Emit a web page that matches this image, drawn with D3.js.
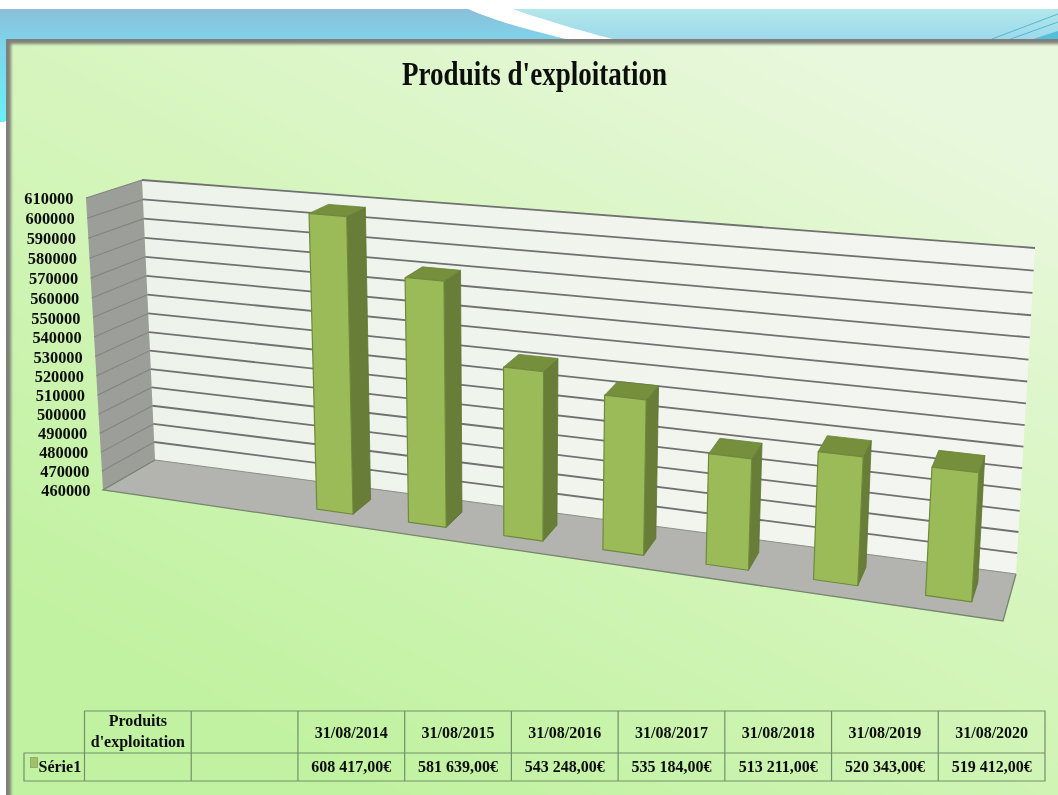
<!DOCTYPE html>
<html><head><meta charset="utf-8">
<script src="https://cdn.jsdelivr.net/npm/d3@7"></script>
<style>
html,body{margin:0;padding:0;background:#fff;overflow:hidden}
svg{display:block}
text{font-family:"Liberation Serif",serif;font-weight:bold;fill:#0c0f0c}
</style></head><body>
<svg id="c" width="1058" height="795"></svg>
<script>
const titleText = "Produits d'exploitation";
const categories = ["Produits d'exploitation", "", "31/08/2014", "31/08/2015", "31/08/2016", "31/08/2017", "31/08/2018", "31/08/2019", "31/08/2020"];
const values = [null, null, 608417, 581639, 543248, 535184, 513211, 520343, 519412];
const valueLabels = ["", "", "608 417,00€", "581 639,00€", "543 248,00€", "535 184,00€", "513 211,00€", "520 343,00€", "519 412,00€"];
const seriesName = "Série1";
const ticks = d3.range(460000, 610001, 10000);

const svg = d3.select("#c");
const W = 1058, H = 795;
const defs = svg.append("defs");

function grad(id, x1, y1, x2, y2, stops, units) {
  const g = defs.append("linearGradient").attr("id", id)
    .attr("x1", x1).attr("y1", y1).attr("x2", x2).attr("y2", y2);
  if (units) g.attr("gradientUnits", units);
  stops.forEach(([o, c]) => g.append("stop").attr("offset", o).attr("stop-color", c));
}
grad("panel", 800, 40, 400, 795, [[0, "#e8f8dc"], [0.42, "#d7f5bf"], [0.64, "#cff4b4"], [1, "#c1f2a1"]], "userSpaceOnUse");
grad("bandL", 0, 0, 0, 1, [[0, "#8bbfd9"], [1, "#7fd2ea"]]);
grad("bandR", 0, 0, 0, 1, [[0, "#b3e7e8"], [1, "#9cd9ec"]]);
grad("sideL", 0, 0, 0, 1, [[0, "#7fd2ea"], [1, "#68f0f8"]]);
grad("wall", 0, 0, 1, 0, [[0, "#edf3ea"], [1, "#f3f6f0"]]);
const blurF = defs.append("filter").attr("id", "soft").attr("x", "-5%").attr("y", "-5%").attr("width", "110%").attr("height", "110%");
blurF.append("feGaussianBlur").attr("stdDeviation", 1.6);
const tiny = defs.append("filter").attr("id", "tiny").attr("x", "-5%").attr("y", "-5%").attr("width", "110%").attr("height", "110%");
tiny.append("feGaussianBlur").attr("stdDeviation", 0.45);
const tinyT = defs.append("filter").attr("id", "tinyT").attr("x", "-5%").attr("y", "-5%").attr("width", "110%").attr("height", "110%");
tinyT.append("feGaussianBlur").attr("stdDeviation", 0.3);

// slide background
const line = d3.line();
svg.append("rect").attr("x", 0).attr("y", 9).attr("width", W).attr("height", 31).attr("fill", "url(#bandL)");
svg.append("path").attr("fill", "url(#bandR)")
  .attr("d", "M513,9 C560,25 590,33 617,40 L1058,40 L1058,9 Z");
svg.append("path").attr("fill", "#fff")
  .attr("d", "M468,9 C500,23 540,33 570,40 L617,40 C590,33 560,25 513,9 Z");
svg.append("path").attr("fill", "none").attr("stroke", "#4fb8d8").attr("stroke-width", 1)
  .attr("d", "M992,39 L1058,14 M1008,40 L1058,22");
svg.append("path").attr("fill", "#55bedb").attr("d", "M1030,40 L1058,31 L1058,40 Z");
svg.append("rect").attr("x", 0).attr("y", 40).attr("width", 6).attr("height", 82).attr("fill", "url(#sideL)");
svg.append("path").attr("fill", "#fff").attr("d", "M0,124 L6,121 L6,795 L0,795 Z");

// panel and its soft grey frame
svg.append("rect").attr("x", 6).attr("y", 39).attr("width", W).attr("height", H).attr("fill", "#7f8079");
const panelClip = defs.append("clipPath").attr("id", "pc");
panelClip.append("rect").attr("x", 6).attr("y", 39).attr("width", W).attr("height", H);
svg.append("g").attr("clip-path", "url(#pc)").append("rect")
  .attr("x", 11).attr("y", 44).attr("width", W + 20).attr("height", H + 20)
  .attr("fill", "url(#panel)").attr("filter", "url(#soft)");

const texts = svg.append("g").attr("filter", "url(#tinyT)");

// title
texts.append("text").attr("x", 534.5).attr("y", 85).attr("text-anchor", "middle")
  .attr("font-size", 34).attr("textLength", 265).attr("lengthAdjust", "spacingAndGlyphs").text(titleText);

// 3D plot box corners
const corners = {
  fb0: [103, 490], ft0: [86, 198], bb0: [155, 460], bt0: [142, 180],
  fb1: [1003, 621], ft1: [1023, 281], bb1: [1016, 574], bt1: [1035, 248]
};
const lerp = (a, b, t) => [a[0] + (b[0] - a[0]) * t, a[1] + (b[1] - a[1]) * t];
const vScale = d3.scaleLinear().domain([460000, 610000]).range([0, 1]);
const band = d3.scaleBand().domain(d3.range(categories.length)).range([0, 1]).paddingInner(0).paddingOuter(0);
const persp = u => u / (1 + 0.195 * (1 - u));
const perspV = v => v / (1 + 0.04 * (1 - v));
// u: 0..1 along categories, d: 0 front .. 1 back, v: 0..1 up
function P(u, d, v) {
  const t = persp(u);
  const bot = lerp(lerp(corners.fb0, corners.fb1, t), lerp(corners.bb0, corners.bb1, t), d);
  const top = lerp(lerp(corners.ft0, corners.ft1, t), lerp(corners.bt0, corners.bt1, t), d);
  return lerp(bot, top, perspV(v));
}
const plot = svg.append("g").attr("filter", "url(#tiny)");
const poly = (g, pts, fill, stroke, sw) => g.append("path").attr("d", line(pts) + "Z")
  .attr("fill", fill).attr("stroke", stroke || "none").attr("stroke-width", sw || 0).attr("stroke-linejoin", "round");

poly(plot, [P(0, 1, 0), P(1, 1, 0), P(1, 1, 1), P(0, 1, 1)], "url(#wall)");
poly(plot, [P(0, 0, 0), P(0, 1, 0), P(0, 1, 1), P(0, 0, 1)], "#9c9e9a");
poly(plot, [P(0, 0, 0), P(1, 0, 0), P(1, 1, 0), P(0, 1, 0)], "#b3b4b0");
plot.append("path").attr("d", line([P(0, 1, 0), P(0, 0, 0), P(1, 0, 0), P(1, 1, 0)]))
  .attr("fill", "none").attr("stroke", "#76856c").attr("stroke-width", 1.3);

plot.selectAll(".gs").data(ticks.slice(1)).join("path").attr("class", "gs")
  .attr("d", t => line([P(0, 0, vScale(t)), P(0, 1, vScale(t))]))
  .attr("fill", "none").attr("stroke", "#83857f").attr("stroke-width", 1.1);
plot.selectAll(".gb").data(ticks.slice(1)).join("path").attr("class", "gb")
  .attr("d", t => line([P(0, 1, vScale(t)), P(1, 1, vScale(t))]))
  .attr("fill", "none").attr("stroke", "#6f7170").attr("stroke-width", 1.8);
plot.append("path").attr("d", line([P(0, 1, 0), P(1, 1, 0)])).attr("stroke", "#8c8f86").attr("stroke-width", 1).attr("fill", "none");

// axis labels follow the front-left edge
texts.selectAll(".yl").data(ticks).join("text").attr("class", "yl")
  .attr("x", t => P(0, 0, vScale(t))[0] - 12.5)
  .attr("y", t => P(0, 0, vScale(t))[1] + 6)
  .attr("text-anchor", "end").attr("font-size", 16.4).text(t => t);

// bars
const frontD = 0.3, backD = 0.72, barFrac = 0.4;
categories.forEach((c, i) => {
  if (values[i] == null) return;
  const mid = band(i) + band.bandwidth() / 2, hw = band.bandwidth() * barFrac / 2;
  const u0 = mid - hw, u1 = mid + hw, v = vScale(values[i]);
  const g = plot.append("g");
  poly(g, [P(u1, frontD, 0), P(u1, backD, 0), P(u1, backD, v), P(u1, frontD, v)], "#677e37", "#5f7533", 0.8);
  poly(g, [P(u0, frontD, v), P(u1, frontD, v), P(u1, backD, v), P(u0, backD, v)], "#748f3d", "#6a8338", 0.8);
  poly(g, [P(u0, frontD, 0), P(u1, frontD, 0), P(u1, frontD, v), P(u0, frontD, v)], "#9bbb59", "#6f8a3c", 1.2);
});

// data table
const tx = d3.scaleBand().domain(d3.range(categories.length)).range([84.5, 1045]);
const rows = [711, 753, 781];
const tbl = svg.append("g").attr("fill", "none").attr("stroke", "#73906a").attr("stroke-width", 1.2);
tbl.append("path").attr("d", line([[84.5, rows[0]], [1045, rows[0]], [1045, rows[2]], [24, rows[2]], [24, rows[1]], [1045, rows[1]]]));
d3.range(categories.length).forEach(i => tbl.append("path").attr("d", line([[tx(i), rows[0]], [tx(i), rows[2]]])));

const cx = i => tx(i) + tx.bandwidth() / 2;
texts.append("text").attr("x", cx(0)).attr("y", 726).attr("text-anchor", "middle").attr("font-size", 16).text("Produits");
texts.append("text").attr("x", cx(0)).attr("y", 747).attr("text-anchor", "middle").attr("font-size", 16).text("d'exploitation");
categories.forEach((c, i) => {
  if (i < 2) return;
  texts.append("text").attr("x", cx(i)).attr("y", 738).attr("text-anchor", "middle").attr("font-size", 16).text(c);
  texts.append("text").attr("x", cx(i)).attr("y", 772).attr("text-anchor", "middle").attr("font-size", 16).text(valueLabels[i]);
});
svg.append("rect").attr("x", 30.5).attr("y", 757.5).attr("width", 7).attr("height", 10)
  .attr("fill", "#a3bf68").attr("stroke", "#8aa36a").attr("stroke-width", 0.8);
texts.append("text").attr("x", 38.5).attr("y", 772).attr("font-size", 16).text(seriesName);
</script>
</body></html>
